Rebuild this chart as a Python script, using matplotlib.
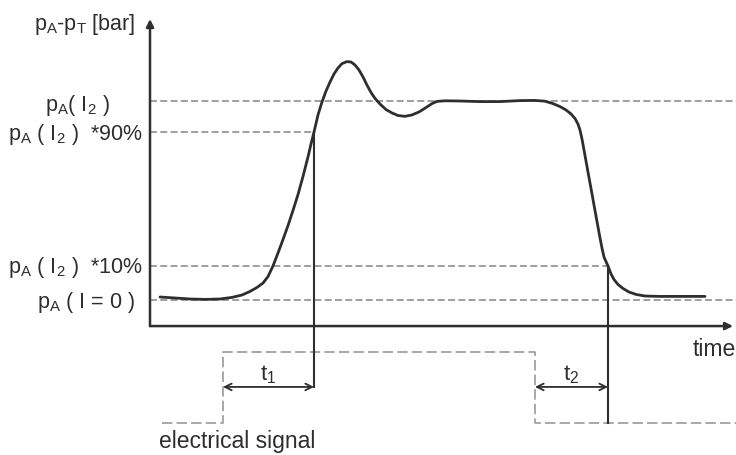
import matplotlib
matplotlib.use("Agg")
import matplotlib.pyplot as plt

plt.rcParams['font.family'] = ['Liberation Sans', 'DejaVu Sans']
plt.rcParams['mathtext.fontset'] = 'custom'
plt.rcParams['mathtext.rm'] = 'Liberation Sans'
plt.rcParams['mathtext.it'] = 'Liberation Sans:italic'
plt.rcParams['mathtext.bf'] = 'Liberation Sans:bold'
plt.rcParams['lines.scale_dashes'] = False

# ---- data (arbitrary schematic units: time, normalized pressure) ----
time_pts = [0.10, 0.25, 0.40, 0.55, 0.70, 0.82, 0.92, 1.00, 1.07, 1.13, 1.18, 1.23,
            1.28, 1.33, 1.38, 1.43, 1.48, 1.53, 1.58, 1.61, 1.64, 1.68, 1.72, 1.76,
            1.80, 1.84, 1.88, 1.92, 1.97, 2.01, 2.05, 2.09, 2.13, 2.17, 2.21, 2.25,
            2.30, 2.36, 2.42, 2.48, 2.55, 2.62, 2.69, 2.76, 2.82, 2.87, 2.95, 3.10,
            3.30, 3.50, 3.70, 3.85, 3.95, 4.03, 4.10, 4.16, 4.21, 4.25, 4.28, 4.30,
            4.32, 4.34, 4.36, 4.38, 4.40, 4.42, 4.44, 4.46, 4.48, 4.50, 4.52, 4.54,
            4.56, 4.58, 4.61, 4.64, 4.68, 4.73, 4.79, 4.86, 4.95, 5.10, 5.55]
pressure_pts = [0.015, 0.010, 0.005, 0.003, 0.005, 0.013, 0.025, 0.043, 0.063, 0.085, 0.118, 0.171,
                0.236, 0.304, 0.374, 0.450, 0.530, 0.621, 0.719, 0.784, 0.844, 0.930, 0.995, 1.050,
                1.095, 1.136, 1.166, 1.188, 1.198, 1.196, 1.181, 1.156, 1.121, 1.080, 1.043, 1.013,
                0.985, 0.957, 0.940, 0.927, 0.923, 0.930, 0.945, 0.967, 0.987, 0.998, 1.001, 1.000,
                0.997, 0.997, 1.002, 1.003, 0.999, 0.987, 0.972, 0.955, 0.935, 0.912, 0.884, 0.854,
                0.809, 0.754, 0.698, 0.643, 0.588, 0.533, 0.477, 0.422, 0.367, 0.312, 0.261, 0.216,
                0.193, 0.171, 0.131, 0.103, 0.078, 0.058, 0.040, 0.028, 0.020, 0.018, 0.018]

level_I2 = 1.000
level_90 = 0.844
level_10 = 0.171
level_0 = 0.000
axis_base = -0.131
axis_top = 1.412
axis_end = 5.83
right_edge = 5.86

t1_start = 0.73
t1_end = 1.64
t2_start = 3.85
t2_end = 4.58
arrow_level = -0.437

sig_time = [0.12, 0.73, 0.73, 3.85, 3.85, 5.86]
sig_level = [-0.618, -0.618, -0.261, -0.261, -0.618, -0.618]

labels_left = {
    'ylabel': r'p$_\mathrm{A}$-p$_\mathrm{T}$ [bar]',
    'I2': r'p$_\mathrm{A}$( I$_2$ )',
    'p90': r'p$_\mathrm{A}$ ( I$_2$ )  *90%',
    'p10': r'p$_\mathrm{A}$ ( I$_2$ )  *10%',
    'p0': r'p$_\mathrm{A}$ ( I = 0 )',
}

# ---- figure ----
fig = plt.figure(figsize=(7.36, 4.56), dpi=100)
ax = fig.add_axes([0, 0, 1, 1])
ax.set_xlim(-1.5, 5.86)
ax.set_ylim(-0.779, 1.5126)
ax.axis('off')

dark = '#2e2e2e'
grey = '#8f8f8f'
ref_dash = (0, (5.0, 2.4))
sig_dash = (0, (7.5, 3.0))

# reference dashed lines
ax.plot([0, right_edge], [level_I2, level_I2], color=grey, lw=1.2, linestyle=ref_dash)
ax.plot([0, t1_end], [level_90, level_90], color=grey, lw=1.2, linestyle=ref_dash)
ax.plot([0, t2_end], [level_10, level_10], color=grey, lw=1.2, linestyle=ref_dash)
ax.plot([0, right_edge], [level_0, level_0], color=grey, lw=1.2, linestyle=ref_dash)

# electrical signal
ax.plot(sig_time, sig_level, color='#9a9a9a', lw=1.2, linestyle=sig_dash)

# axes with arrows
ax.annotate('', xy=(0, axis_top), xytext=(0, axis_base),
            arrowprops=dict(arrowstyle='-|>', color=dark, lw=1.8,
                            mutation_scale=11, shrinkA=0, shrinkB=0))
ax.annotate('', xy=(axis_end, axis_base), xytext=(0, axis_base),
            arrowprops=dict(arrowstyle='-|>', color=dark, lw=1.8,
                            mutation_scale=11, shrinkA=0, shrinkB=0))

# pressure curve
ax.plot(time_pts, pressure_pts, color=dark, lw=2.0, solid_joinstyle='round',
        solid_capstyle='round')

# vertical markers
ax.plot([t1_end, t1_end], [level_90, arrow_level], color=dark, lw=1.5)
ax.plot([t2_end, t2_end], [level_10, sig_level[-1]], color=dark, lw=1.5)

# time-difference arrows
for a, b in [(t1_start, t1_end), (t2_start, t2_end)]:
    ax.annotate('', xy=(b, arrow_level), xytext=(a, arrow_level),
                arrowprops=dict(arrowstyle='<->', color=dark, lw=1.3,
                                mutation_scale=12, shrinkA=0, shrinkB=0))
ax.text((t1_start + t1_end) / 2, -0.37, r't$_1$', ha='center', va='center',
        fontsize=16, color=dark)
ax.text((t2_start + t2_end) / 2, -0.37, r't$_2$', ha='center', va='center',
        fontsize=16, color=dark)

# labels
fs = 15.5
ax.text(-0.15, 1.362, labels_left['ylabel'], ha='right', va='baseline', fontsize=fs, color=dark)
ax.text(-0.40, 0.955, labels_left['I2'], ha='right', va='baseline', fontsize=fs, color=dark)
ax.text(-0.07, 0.809, labels_left['p90'], ha='right', va='baseline', fontsize=fs, color=dark)
ax.text(-0.07, 0.141, labels_left['p10'], ha='right', va='baseline', fontsize=fs, color=dark)
ax.text(-0.15, -0.035, labels_left['p0'], ha='right', va='baseline', fontsize=fs, color=dark)

ax.text(5.64, -0.246, 'time', ha='center', va='center', fontsize=16.5, color=dark)
ax.text(0.09, -0.739, 'electrical signal', ha='left', va='baseline', fontsize=16.5, color=dark)

fig.savefig('out.png', dpi=100)
